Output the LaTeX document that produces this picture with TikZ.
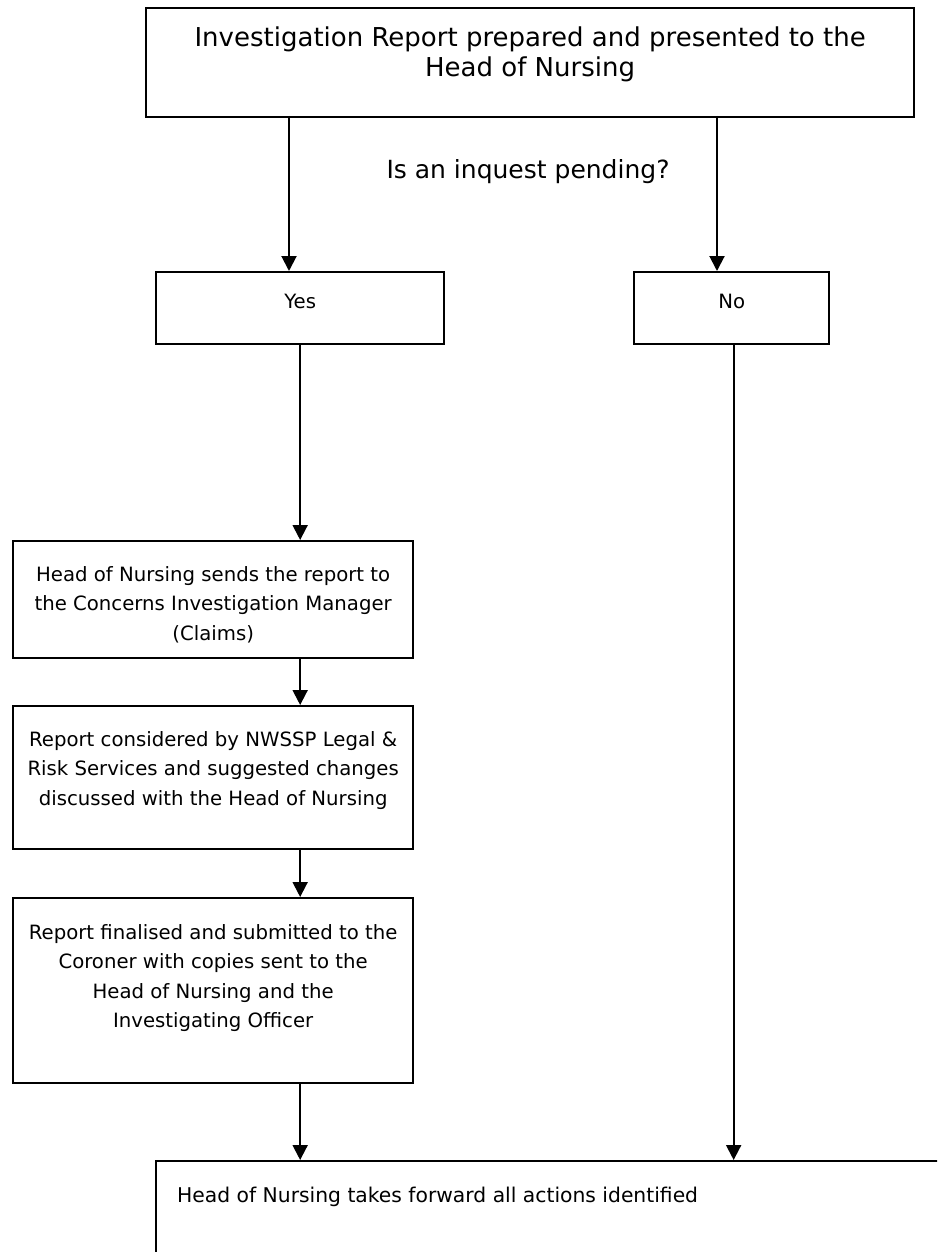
\documentclass[tikz,border=0pt]{standalone}
\usepackage{fontspec}
\setmainfont{DejaVu Sans}
\usetikzlibrary{arrows.meta}
\tikzset{
  box/.style={draw, line width=2.3pt, inner sep=0pt, anchor=north west},
  plain/.style={inner sep=0pt},
  arr/.style={line width=2pt, -{Triangle[width=15pt,length=15pt]}}
}
\newcommand{\bt}[4]{\parbox[c][#2][t]{#1}{\centering\vspace*{#3}#4}}
\begin{document}
\begin{tikzpicture}[x=1pt,y=-1pt,font=\fontsize{19.7}{29.5}\selectfont]
\begin{scope}
\clip (0,0) rectangle (937,1252);
\node[box] (top) at (145,7) {\bt{768pt}{109pt}{19pt}{\fontsize{26}{30}\selectfont Investigation Report prepared and presented to the\\Head of Nursing}};
\node[plain,font=\fontsize{25}{30}\selectfont] (q) at (528,172) {Is an inquest pending?};
\node[box] (yes) at (155,271) {\bt{288pt}{72pt}{22pt}{Yes}};
\node[box] (no) at (633,271) {\bt{195pt}{72pt}{22pt}{No}};
\node[box] (b3) at (12,540) {\bt{400pt}{117pt}{25pt}{Head of Nursing sends the report to\\the Concerns Investigation Manager\\(Claims)}};
\node[box] (b4) at (12,705) {\bt{400pt}{143pt}{25pt}{Report considered by NWSSP Legal \&\\Risk Services and suggested changes\\discussed with the Head of Nursing}};
\node[box] (b5) at (12,897) {\bt{400pt}{185pt}{26pt}{Report finalised and submitted to the\\Coroner with copies sent to the\\Head of Nursing and the\\Investigating Officer}};
\node[box,align=left] (fin) at (155,1160) {\parbox[c][140pt][t]{830pt}{\vspace*{26pt}\hspace*{21pt}\fontsize{20.3}{29.5}\selectfont Head of Nursing takes forward all actions identified}};
\coordinate (tl) at (289,116);
\coordinate (tr) at (717,116);
\draw[arr] (tl) -- (tl |- yes.north);
\draw[arr] (tr) -- (tr |- no.north);
\draw[arr] (yes.south) -- (yes.south |- b3.north);
\draw[arr] ([xshift=2pt]no.south) -- ([xshift=2pt]no.south |- fin.north);
\draw[arr] ([xshift=87pt]b3.south) -- ([xshift=87pt]b3.south |- b4.north);
\draw[arr] ([xshift=87pt]b4.south) -- ([xshift=87pt]b4.south |- b5.north);
\draw[arr] ([xshift=87pt]b5.south) -- ([xshift=87pt]b5.south |- fin.north);
\end{scope}
\pgfresetboundingbox
\useasboundingbox (0,0) rectangle (937,1252);
\end{tikzpicture}
\end{document}
